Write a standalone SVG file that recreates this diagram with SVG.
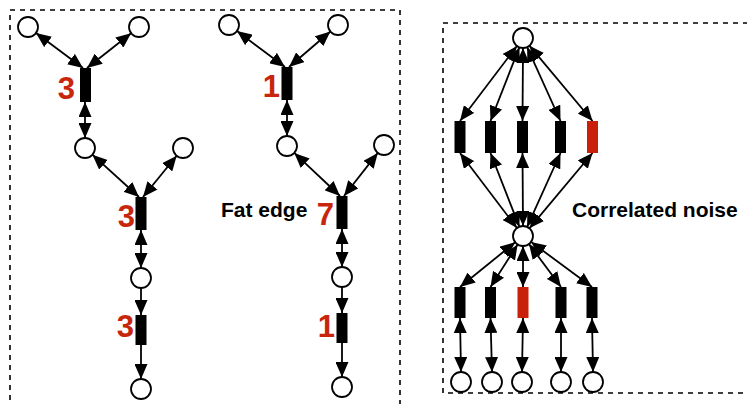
<svg xmlns="http://www.w3.org/2000/svg" width="747" height="404" viewBox="0 0 747 404">
<style>
.box{fill:none;stroke:#000;stroke-width:1.6;stroke-dasharray:5,5}
.n{fill:#fff;stroke:#000;stroke-width:1.8}
.bar{fill:#000}
.rbar{fill:#c8200a}
.e{stroke:#000;stroke-width:1.8;fill:none}
.d{marker-start:url(#ah);marker-end:url(#ah)}
.s{marker-end:url(#ah)}
.num{font-family:"Liberation Sans",Arial,sans-serif;font-weight:bold;font-size:31px;fill:#c8260c;text-anchor:end}
.lbl{font-family:"Liberation Sans",Arial,sans-serif;font-weight:bold;font-size:21px;fill:#000}
</style>
<defs>
<marker id="ah" viewBox="0 0 15 13" refX="15" refY="6.5" markerWidth="15" markerHeight="13" markerUnits="userSpaceOnUse" orient="auto-start-reverse">
<path d="M0,0 L15,6.5 L0,13 z" fill="#000"/>
</marker>
</defs>
<rect class="box" x="10" y="10" width="390" height="420"/>
<rect class="box" x="443" y="23" width="320" height="370"/>

<g id="connectors">
<!-- tree 1 -->
<line class="e d" x1="36" y1="33" x2="83" y2="68"/>
<line class="e d" x1="131.1" y1="33.2" x2="87" y2="68"/>
<line class="e d" x1="85" y1="102" x2="85" y2="138"/>
<line class="e d" x1="92.4" y1="154.7" x2="139" y2="197"/>
<line class="e d" x1="176.7" y1="155.7" x2="143" y2="197"/>
<line class="e d" x1="141" y1="230" x2="141" y2="268"/>
<line class="e s" x1="141" y1="288" x2="141" y2="315"/>
<line class="e s" x1="141" y1="345" x2="141" y2="379"/>
<!-- tree 2 -->
<line class="e d" x1="237" y1="31" x2="285" y2="67"/>
<line class="e d" x1="330.4" y1="31.5" x2="289" y2="67"/>
<line class="e d" x1="287" y1="100" x2="287" y2="136"/>
<line class="e d" x1="294.3" y1="152.9" x2="340" y2="196"/>
<line class="e d" x1="377.8" y1="152.9" x2="344" y2="196"/>
<line class="e d" x1="342" y1="229" x2="342" y2="267"/>
<line class="e s" x1="342" y1="287" x2="342" y2="313"/>
<line class="e s" x1="342" y1="343" x2="342" y2="377"/>
<!-- right graph: top -->
<line class="e d" x1="516.95" y1="45.97" x2="460" y2="121"/>
<line class="e d" x1="519.35" y1="47.31" x2="490.5" y2="121"/>
<line class="e d" x1="523" y1="48" x2="522.5" y2="121"/>
<line class="e d" x1="527.1" y1="47.1" x2="560.5" y2="121"/>
<line class="e d" x1="529.4" y1="45.7" x2="592.5" y2="121"/>
<!-- row1 to middle -->
<line class="e d" x1="460" y1="153" x2="516.95" y2="228.03"/>
<line class="e d" x1="490.5" y1="153" x2="519.35" y2="226.69"/>
<line class="e d" x1="522.5" y1="153" x2="523" y2="226"/>
<line class="e d" x1="560.5" y1="153" x2="527.1" y2="226.9"/>
<line class="e d" x1="592.5" y1="153" x2="529.4" y2="228.3"/>
<!-- middle to row2 -->
<line class="e d" x1="515.2" y1="242.3" x2="460" y2="287"/>
<line class="e d" x1="517.6" y1="244.4" x2="490.5" y2="287"/>
<line class="e d" x1="523" y1="246" x2="523" y2="287"/>
<line class="e d" x1="529" y1="244" x2="561" y2="287"/>
<line class="e d" x1="531" y1="241.9" x2="592" y2="287"/>
<!-- row2 to bottom -->
<line class="e d" x1="460" y1="318" x2="461" y2="372"/>
<line class="e d" x1="490.5" y1="318" x2="492" y2="372"/>
<line class="e d" x1="523" y1="318" x2="522" y2="372"/>
<line class="e d" x1="561" y1="318" x2="561" y2="372"/>
<line class="e d" x1="592" y1="318" x2="593" y2="372"/>
</g>

<!-- tree 1 nodes -->
<g id="t1-c1"><circle class="n" cx="28" cy="27" r="10"/></g>
<g id="t1-c2"><circle class="n" cx="139" cy="27" r="10"/></g>
<g id="t1-b1"><rect class="bar" x="80" y="68" width="11" height="34"/><text class="num" x="75" y="99">3</text></g>
<g id="t1-c3"><circle class="n" cx="85" cy="148" r="10"/></g>
<g id="t1-c4"><circle class="n" cx="183" cy="148" r="10"/></g>
<g id="t1-b2"><rect class="bar" x="135.5" y="197" width="11" height="33"/><text class="num" x="135" y="227">3</text></g>
<g id="t1-c5"><circle class="n" cx="141" cy="278" r="10"/></g>
<g id="t1-b3"><rect class="bar" x="135.5" y="315" width="11" height="30"/><text class="num" x="134" y="337">3</text></g>
<g id="t1-c6"><circle class="n" cx="141" cy="389" r="10"/></g>

<!-- tree 2 nodes -->
<g id="t2-c1"><circle class="n" cx="229" cy="25" r="10"/></g>
<g id="t2-c2"><circle class="n" cx="338" cy="25" r="10"/></g>
<g id="t2-b1"><rect class="bar" x="281.5" y="67" width="11" height="33"/><text class="num" x="280" y="97">1</text></g>
<g id="t2-c3"><circle class="n" cx="287" cy="146" r="10"/></g>
<g id="t2-c4"><circle class="n" cx="384" cy="145" r="10"/></g>
<g id="t2-b2"><rect class="bar" x="336.5" y="196" width="11" height="33"/><text class="num" x="334" y="225">7</text><text class="lbl" x="221" y="217">Fat edge</text></g>
<g id="t2-c5"><circle class="n" cx="342" cy="277" r="10"/></g>
<g id="t2-b3"><rect class="bar" x="336.5" y="313" width="11" height="30"/><text class="num" x="335" y="337">1</text></g>
<g id="t2-c6"><circle class="n" cx="342" cy="387" r="10"/></g>

<!-- right graph nodes -->
<g id="r-top"><circle class="n" cx="523" cy="38" r="10"/></g>
<g id="r-b1"><rect class="bar" x="454.5" y="121" width="11" height="32"/></g>
<g id="r-b2"><rect class="bar" x="485" y="121" width="11" height="32"/></g>
<g id="r-b3"><rect class="bar" x="517" y="121" width="11" height="32"/></g>
<g id="r-b4"><rect class="bar" x="555" y="121" width="11" height="32"/></g>
<g id="r-b5"><rect class="rbar" x="587" y="121" width="11" height="32"/></g>
<g id="r-mid"><circle class="n" cx="523" cy="236" r="10"/><text class="lbl" x="572" y="217">Correlated noise</text></g>
<g id="r-c1"><rect class="bar" x="454.5" y="287" width="11" height="31"/></g>
<g id="r-c2"><rect class="bar" x="485" y="287" width="11" height="31"/></g>
<g id="r-c3"><rect class="rbar" x="517.5" y="287" width="11" height="31"/></g>
<g id="r-c4"><rect class="bar" x="555.5" y="287" width="11" height="31"/></g>
<g id="r-c5"><rect class="bar" x="586.5" y="287" width="11" height="31"/></g>
<g id="r-o1"><circle class="n" cx="461" cy="382" r="10"/></g>
<g id="r-o2"><circle class="n" cx="492" cy="382" r="10"/></g>
<g id="r-o3"><circle class="n" cx="522" cy="382" r="10"/></g>
<g id="r-o4"><circle class="n" cx="561" cy="382" r="10"/></g>
<g id="r-o5"><circle class="n" cx="593" cy="382" r="10"/></g>
</svg>
